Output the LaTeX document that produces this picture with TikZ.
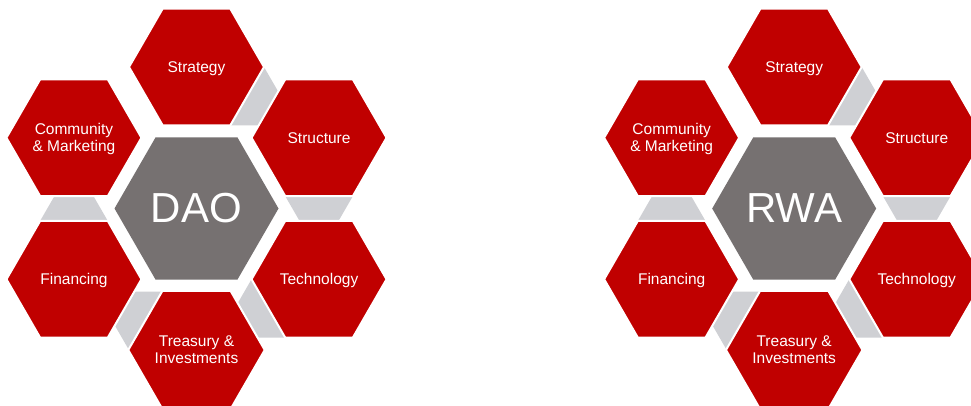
\documentclass[tikz,border=0pt]{standalone}
\usepackage{fontspec}
\setmainfont{Liberation Sans}
\usetikzlibrary{shapes.geometric,calc}
\definecolor{hexred}{HTML}{C00000}
\definecolor{hexcore}{HTML}{767171}
\definecolor{hexlink}{HTML}{CFD0D4}
\begin{document}
\begin{tikzpicture}[x=1pt,y=1pt,
  outerhex/.style={regular polygon, regular polygon sides=6, minimum size=135pt,
    inner sep=0pt, outer sep=0pt, fill=hexred, draw=white, line width=2pt, text=white,
    font=\fontsize{15.5}{17}\selectfont, align=center, text depth=0pt},
  corehex/.style={regular polygon, regular polygon sides=6, minimum size=164pt,
    inner sep=0pt, outer sep=0pt, fill=hexcore, text=white,
    font=\fontsize{42}{46}\selectfont},
  linkshape/.style={fill=hexlink}]
\useasboundingbox (0,0) rectangle (971,405);
\clip (0,0) rectangle (971,405);
\fill[white] (0,0) rectangle (971,405);
\foreach \p/\cx/\lab in {L/196.5/DAO, R/794.2/RWA}{
  \coordinate (\p-c) at (\cx,196.5);
  \foreach \name/\ang in {st/90, su/30, te/-30, tr/-90, fi/210, co/150}{
    \coordinate (\p-\name-o) at ($(\p-c)+(\ang:141.5)$);
  }
  \foreach \name/\ang in {st/90, su/30, te/-30, tr/-90, fi/210}{
    \fill[linkshape] ($(\p-\name-o)+(\ang-150:67.5)$)
      -- ($(\p-\name-o)+(\ang-90:67.5)$)
      -- ($(\p-\name-o)+(\ang-120:116.9)$) -- cycle;
  }
  \node[corehex] (\p-core) at (\p-c) {\lab};
  \node[outerhex] (\p-st) at (\p-st-o) {Strategy};
  \node[outerhex] (\p-su) at (\p-su-o) {Structure};
  \node[outerhex] (\p-te) at (\p-te-o) {Technology};
  \node[outerhex] (\p-tr) at (\p-tr-o) {Treasury \&\\Investments};
  \node[outerhex] (\p-fi) at (\p-fi-o) {Financing};
  \node[outerhex] (\p-co) at (\p-co-o) {Community\\\& Marketing};
}
\end{tikzpicture}
\end{document}
